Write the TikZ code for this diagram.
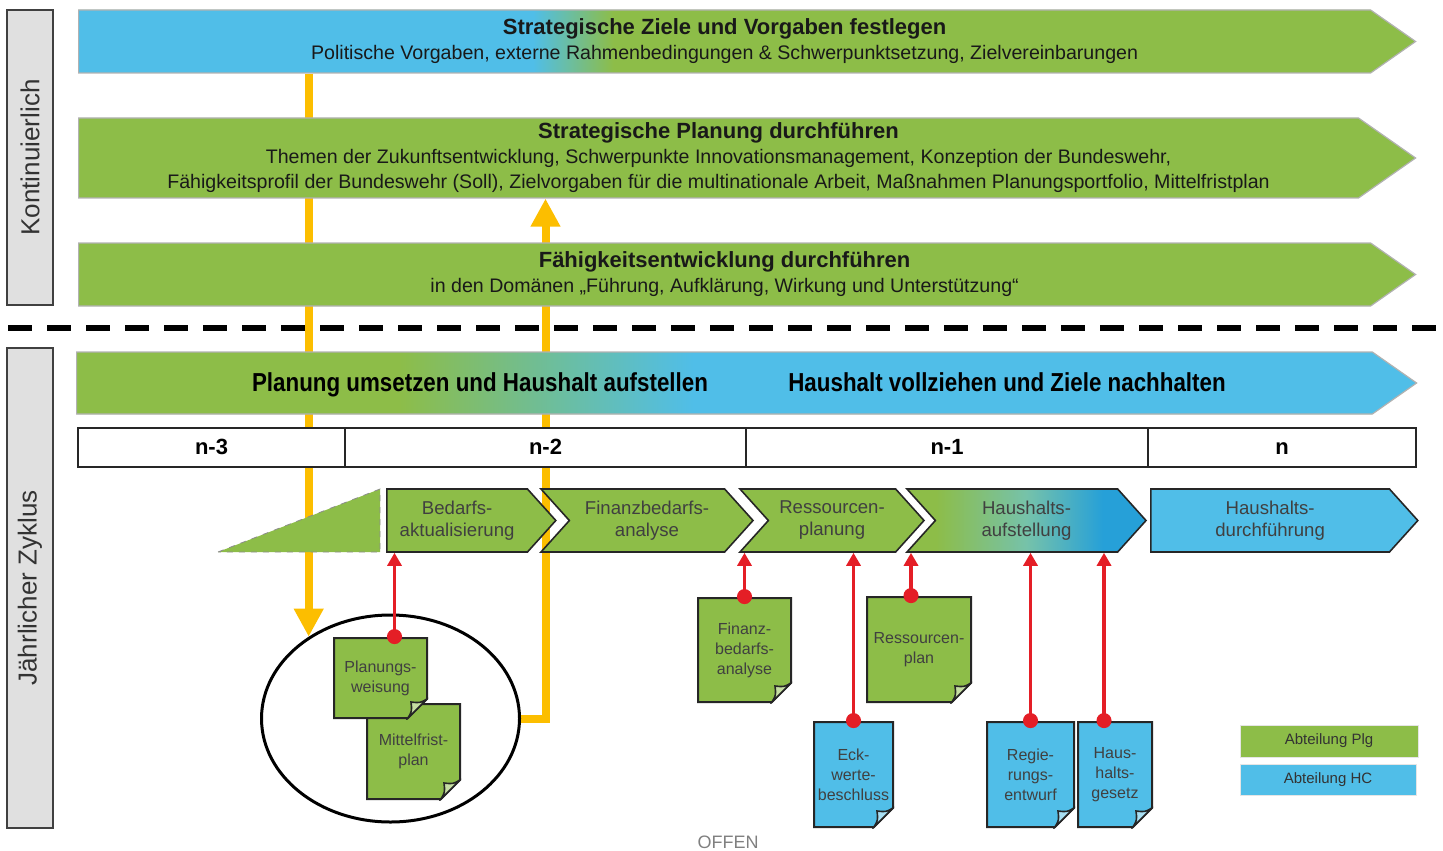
\documentclass[tikz,border=0pt]{standalone}
\usepackage{fontspec}
\setmainfont{Liberation Sans}
\newfontfamily\narrowfont[FakeStretch=0.86]{Liberation Sans}
\usetikzlibrary{shapes.symbols,shapes.geometric,arrows.meta,backgrounds,calc}

\definecolor{plggreen}{RGB}{141,189,72}
\definecolor{hcblue}{RGB}{80,190,232}
\definecolor{hcdeep}{RGB}{38,160,216}
\definecolor{mixteal}{RGB}{118,194,170}
\definecolor{yellowline}{RGB}{252,190,0}
\definecolor{redline}{RGB}{228,30,38}

\pgfdeclarehorizontalshading{zieleshade}{100bp}{color(0bp)=(hcblue); color(42bp)=(hcblue); color(45bp)=(plggreen); color(100bp)=(plggreen)}
\pgfdeclarehorizontalshading{umsetzshade}{100bp}{color(0bp)=(plggreen); color(37bp)=(plggreen); color(48bp)=(hcblue); color(100bp)=(hcblue)}
\pgfdeclarehorizontalshading{aufstellshade}{100bp}{color(0bp)=(plggreen); color(31bp)=(plggreen); color(50bp)=(mixteal); color(66bp)=(hcdeep); color(100bp)=(hcdeep)}

\tikzstyle{banner} = [signal, signal to=east, signal from=nowhere, signal pointer angle=70, anchor=west, draw=black!30, line width=0.6pt, fill=plggreen, inner sep=0pt, align=center, text=black!90, font=\fontsize{9.8}{12.5}\selectfont]
\tikzstyle{bannertext} = [text height=10pt, text depth=3pt, font=\narrowfont\fontsize{13}{15}\selectfont\bfseries]
\tikzstyle{side} = [rectangle, rotate=90, draw=black!75, line width=1pt, fill=black!12, text=black!80, font=\fontsize{13}{15}\selectfont]
\tikzstyle{year} = [rectangle, draw=black!85, line width=0.8pt, fill=white, minimum height=19.5pt, text height=8pt, text depth=1.5pt, font=\fontsize{11}{13}\selectfont\bfseries]
\tikzstyle{phase} = [signal, signal to=east, signal from=west, signal pointer angle=96, draw=black!85, line width=0.8pt, fill=plggreen, minimum height=31.5pt, inner sep=0pt, align=center, text=black!75, font=\fontsize{9.3}{11}\selectfont]
\tikzstyle{legend} = [rectangle, draw=black!10, line width=0.5pt, text=black!80, font=\fontsize{7.5}{9}\selectfont]
\tikzstyle{redarrow} = [draw=redline, line width=1.7pt, {Circle[length=7.5pt]}-{Triangle[length=6.5pt,width=7pt]}, shorten <=-3.75pt]
\tikzstyle{flow} = [draw=yellowline, line width=4pt, -{Triangle[length=14pt,width=14pt]}]
\tikzset{doc/.style={rectangle, inner sep=0pt, align=center, text=black!75, font=\fontsize{8}{10}\selectfont,
  path picture={
    \path let \p1=(path picture bounding box.south west), \p2=(path picture bounding box.north east) in
      [draw=black!85, line width=1pt, fill=#1] (\x1+0.5pt,\y2-0.5pt) -- (\x2-0.5pt,\y2-0.5pt) -- (\x2-0.5pt,\y1+10pt) -- (\x2-10pt,\y1+0.5pt) -- (\x1+0.5pt,\y1+0.5pt) -- cycle;
    \path let \p1=(path picture bounding box.south west), \p2=(path picture bounding box.north east) in
      [draw=black!85, line width=0.8pt, fill=#1!50!white] (\x2-10pt,\y1+0.5pt) -- (\x2-0.5pt,\y1+10pt) .. controls (\x2-4pt,\y1+8pt) .. (\x2-8.5pt,\y1+8.5pt) .. controls (\x2-8pt,\y1+4pt) .. cycle;
  }}}

\begin{document}
\begin{tikzpicture}[x=0.5pt, y=-0.5pt]
\useasboundingbox (0,0) rectangle (1443,850);

% kontinuierlich
\node (kont) [side, minimum width=147.5pt, minimum height=23pt] at (30,157.5) {Kontinuierlich};
\node (ziele) [banner, shade, shading=zieleshade, minimum width=668.5pt, minimum height=31.5pt] at (78,41.5) {{\fontsize{11}{13}\selectfont\bfseries Strategische Ziele und Vorgaben festlegen}\\Politische Vorgaben, externe Rahmenbedingungen \& Schwerpunktsetzung, Zielvereinbarungen};
\node (planung) [banner, minimum width=668.5pt, minimum height=40pt] at (78,158) {{\fontsize{11}{13}\selectfont\bfseries Strategische Planung durchführen}\\Themen der Zukunftsentwicklung, Schwerpunkte Innovationsmanagement, Konzeption der Bundeswehr,\\Fähigkeitsprofil der Bundeswehr (Soll), Zielvorgaben für die multinationale Arbeit, Maßnahmen Planungsportfolio, Mittelfristplan};
\node (faehig) [banner, minimum width=668.5pt, minimum height=31.5pt] at (78,274.5) {{\fontsize{11}{13}\selectfont\bfseries Fähigkeitsentwicklung durchführen}\\in den Domänen „Führung, Aufklärung, Wirkung und Unterstützung“};

\draw[line width=3pt, dash pattern=on 12pt off 7.5pt] (8,328) -- (1443,328);

% jaehrlicher Zyklus
\node (jahr) [side, minimum width=240pt, minimum height=23pt] at (30,588) {Jährlicher Zyklus};
\node (umsetzen) [banner, shade, shading=umsetzshade, minimum width=670pt, minimum height=31pt] at (76,383) {};
\node (umsetzentext) [bannertext] at (480,384) {Planung umsetzen und Haushalt aufstellen};
\node (vollziehentext) [bannertext] at (1007,384) {Haushalt vollziehen und Ziele nachhalten};

\node (n3) [year, minimum width=133.5pt] at (211.5,447.5) {n-3};
\node (n2) [year, minimum width=200.5pt] at (545.5,447.5) {n-2};
\node (n1) [year, minimum width=201pt] at (947,447.5) {n-1};
\node (n0) [year, minimum width=134pt] at (1282,447.5) {n};

\draw[dashed, draw=black!45, fill=plggreen] (218,552) -- (380,489) -- (380,552) -- cycle;
\node (bedarf) [phase, signal from=nowhere, anchor=west, minimum width=84.5pt] at (386,520.5) {Bedarfs-\\aktualisierung};
\node (fbanalyse) [phase, minimum width=106pt] at (647,520.5) {Finanzbedarfs-\\analyse};
\node (ressourcen) [phase, minimum width=92pt] at (832,520.5) {Ressourcen-\\planung};
\node (aufstellung) [phase, shade, shading=aufstellshade, minimum width=119.5pt] at (1026.5,520.5) {Haushalts-\\aufstellung};
\node (durchf) [phase, signal from=nowhere, anchor=west, fill=hcblue, minimum width=133.5pt] at (1150,520.5) {Haushalts-\\durchführung};

% dokumente
\node (kreis) [ellipse, draw=black, line width=1.5pt, minimum width=129pt, minimum height=103.5pt] at (390.5,718.5) {};
\node (mfplan) [doc=plggreen, minimum width=47.5pt, minimum height=48.5pt] at (413.5,751.5) {Mittelfrist-\\plan};
\node (weisung) [doc=plggreen, minimum width=47.5pt, minimum height=41pt] at (380.5,678) {Planungs-\\weisung};
\node (fbdoc) [doc=plggreen, minimum width=47.5pt, minimum height=53pt] at (744.5,650) {Finanz-\\bedarfs-\\analyse};
\node (resdoc) [doc=plggreen, minimum width=53pt, minimum height=53.5pt] at (919,649.5) {Ressourcen-\\plan};
\node (eckdoc) [doc=hcblue, minimum width=40.5pt, minimum height=53.5pt] at (853.5,774.5) {Eck-\\werte-\\beschluss};
\node (regdoc) [doc=hcblue, minimum width=44.5pt, minimum height=53.5pt] at (1030.5,774.5) {Regie-\\rungs-\\entwurf};
\node (gesdoc) [doc=hcblue, minimum width=38pt, minimum height=53.5pt] at (1115,774.5) {Haus-\\halts-\\gesetz};

\node (legplg) [legend, fill=plggreen, minimum width=89pt, minimum height=16pt] at (1329,741) {Abteilung Plg};
\node (leghc) [legend, fill=hcblue, minimum width=88pt, minimum height=15.5pt] at (1328,779.5) {Abteilung HC};
\node (offen) [text=black!50, font=\fontsize{9}{10}\selectfont] at (728,842) {OFFEN};

\draw[redarrow] ([xshift=7pt]weisung.north) -- ([xshift=7pt]weisung.north |- bedarf.south);
\draw[redarrow] (fbdoc.north) -- (fbdoc.north |- ressourcen.south);
\draw[redarrow] (eckdoc.north) -- (eckdoc.north |- ressourcen.south);
\draw[redarrow] ([xshift=-4pt]resdoc.north) -- ([xshift=-4pt]resdoc.north |- aufstellung.south);
\draw[redarrow] (regdoc.north) -- (regdoc.north |- aufstellung.south);
\draw[redarrow] ([xshift=-5.5pt]gesdoc.north) -- ([xshift=-5.5pt]gesdoc.north |- aufstellung.south);

\begin{pgfonlayer}{background}
\draw[flow] (ziele.south -| kreis.135) -- (kreis.135);
\draw[flow] (kreis.east) -| (n2.center |- planung.south);
\end{pgfonlayer}

\end{tikzpicture}
\end{document}
